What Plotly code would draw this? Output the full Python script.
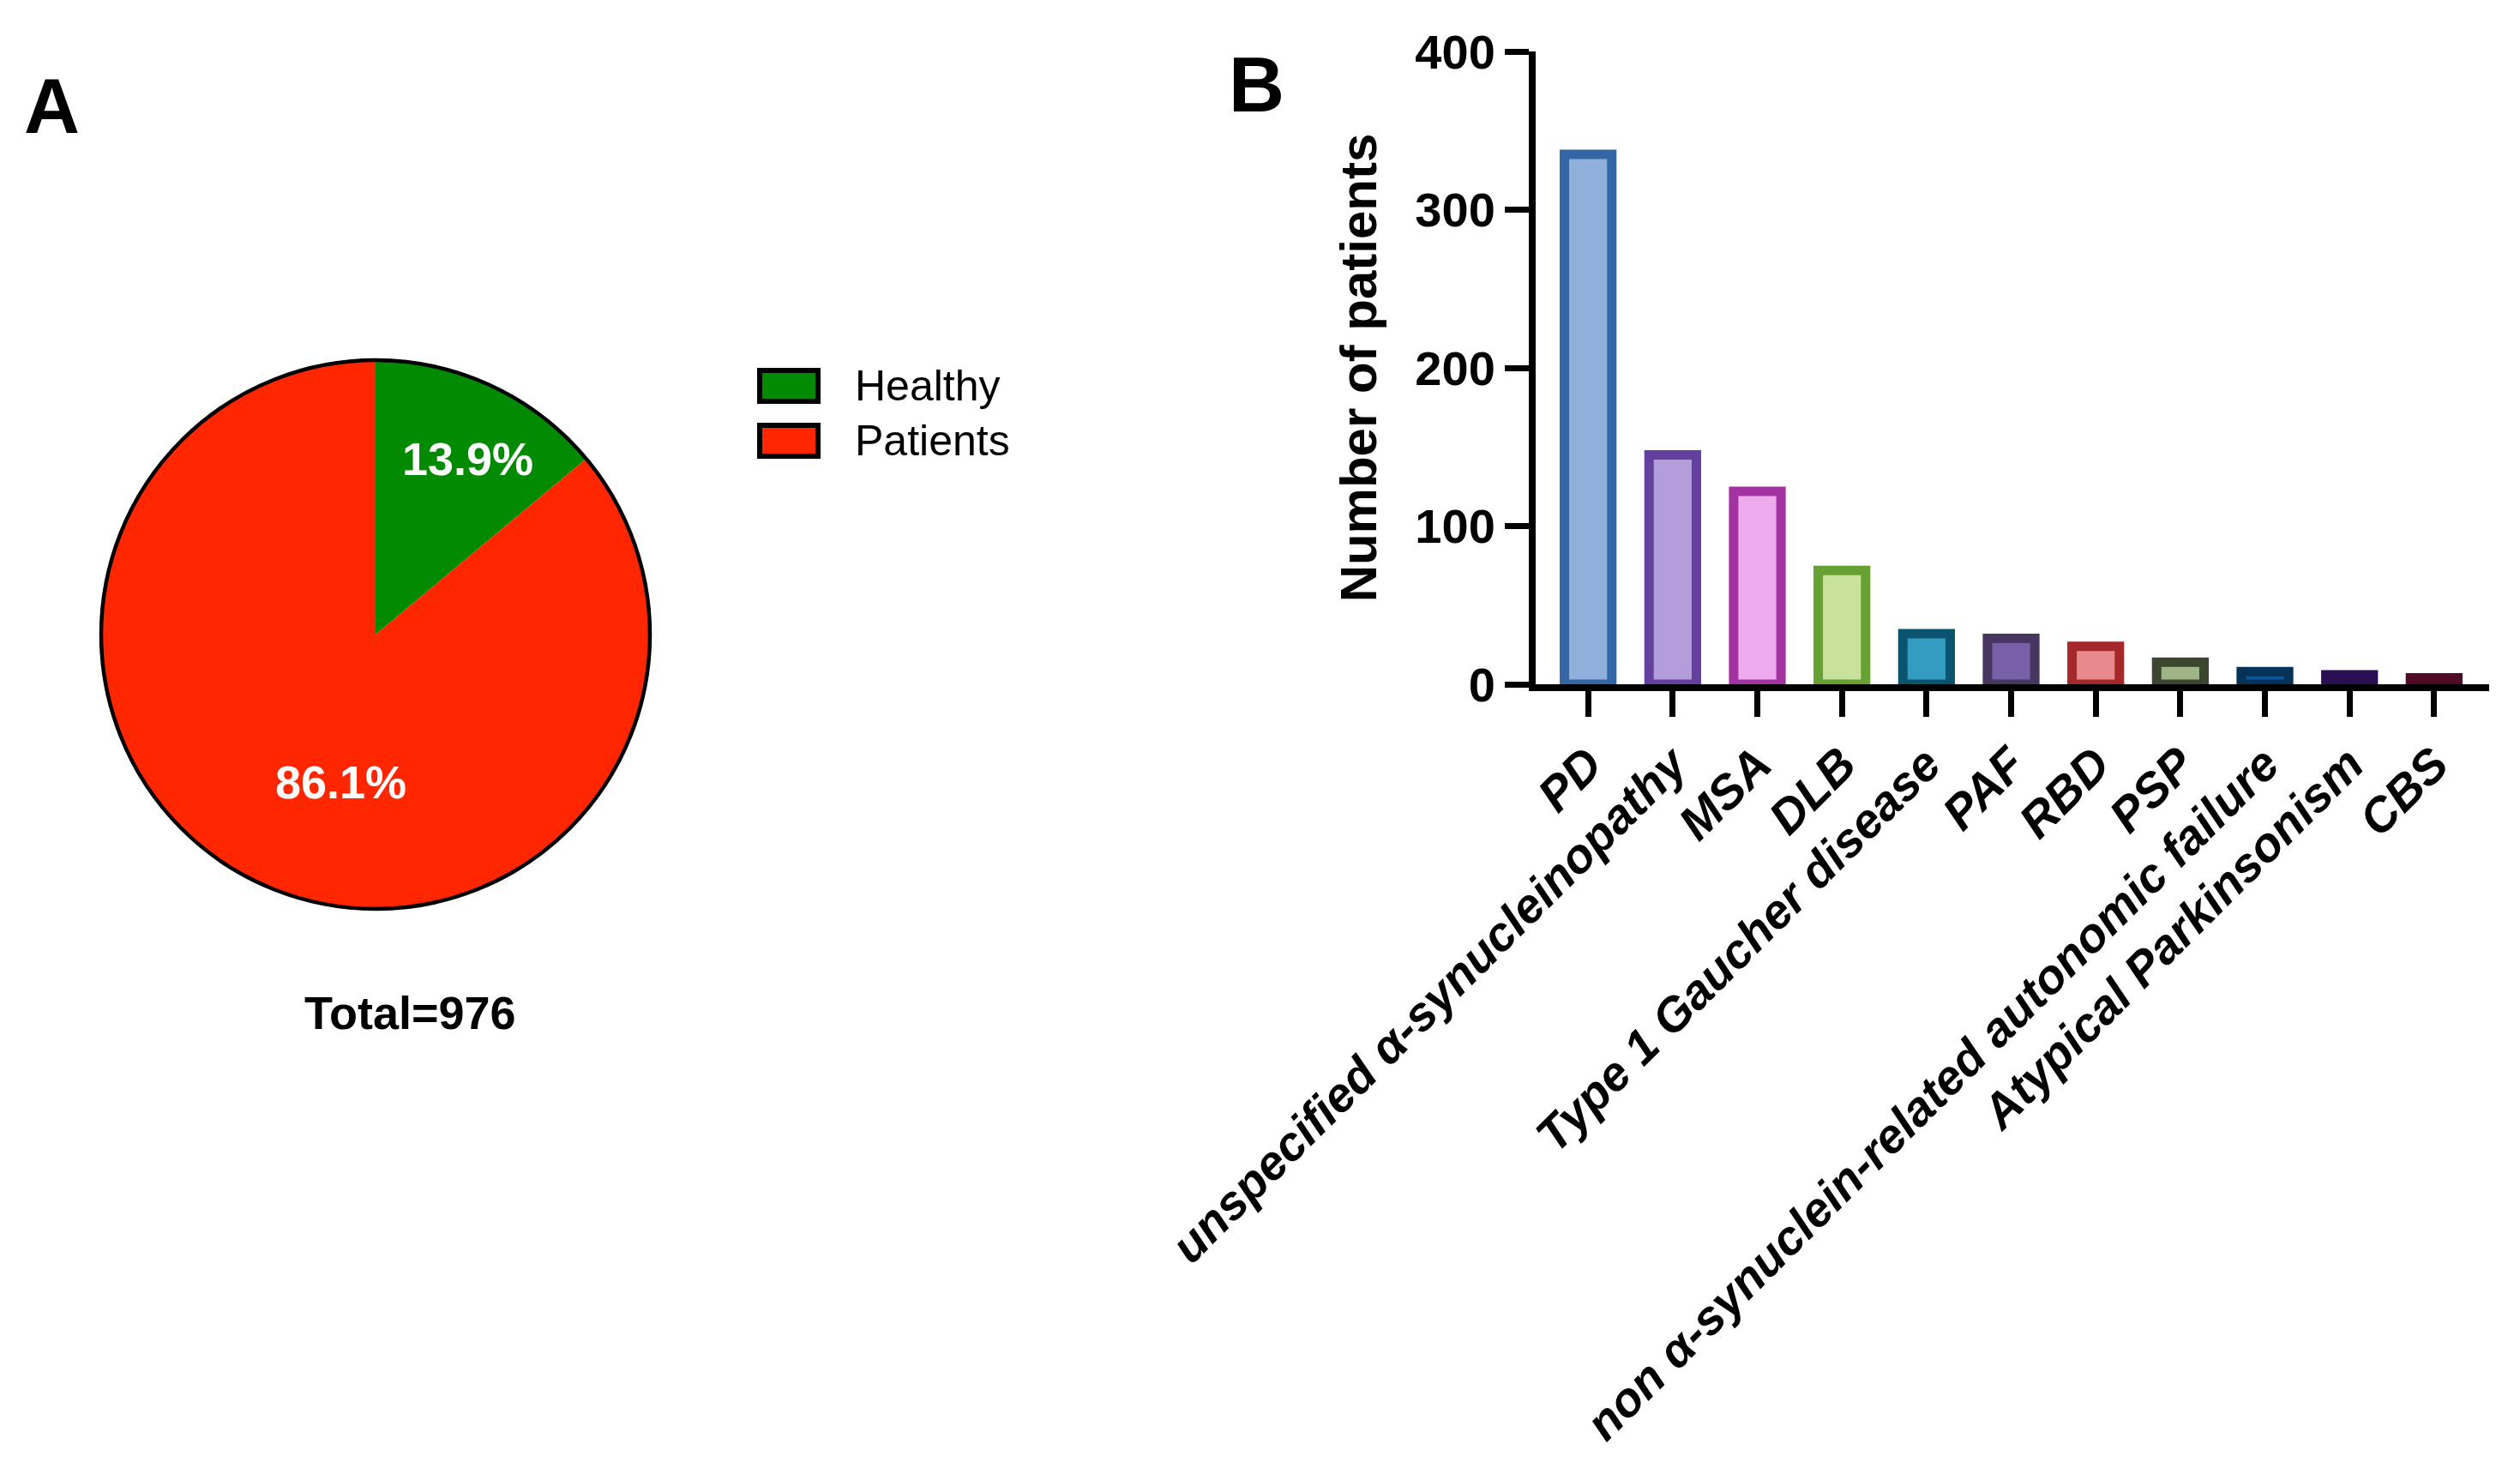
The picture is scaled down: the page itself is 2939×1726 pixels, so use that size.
import plotly.graph_objects as go

# ---------------- data ----------------
pie_labels = ["Healthy", "Patients"]
pie_values = [136, 840]

bar_categories = ["PD", "unspecified α-synucleinopathy", "MSA", "DLB",
                  "Type 1 Gaucher disease", "PAF", "RBD", "PSP",
                  "non α-synuclein-related autonomic failure",
                  "Atypical Parkinsonism", "CBS"]
bar_values = [335, 145, 122, 72, 32, 29, 24, 14, 8, 6, 4]

y_tick_vals = [0, 100, 200, 300, 400]

# ---------------- styles ----------------
pie_colors = ["#028A02", "#FF2600"]
bar_fill = ["#8FB0DB", "#B39DDB", "#EDABEE", "#C9E29B", "#339CC0", "#7760A8",
            "#E88A8D", "#9FB585", "#07579E", "#51209A", "#6A1030"]
bar_line = ["#3465A4", "#63409E", "#A333A0", "#67A033", "#0B5470", "#47365F",
            "#A5282A", "#3C4530", "#043357", "#2A0F55", "#4F0A25"]

W, H = 2939, 1726
OFF = 8                      # default page body margin
FW, FH = W - 2 * OFF, H - 2 * OFF
FONT = "Liberation Sans, Arial, sans-serif"


def px(x):
    return (x - OFF) / FW


def py(y):
    return 1 - (y - OFF) / FH


total = sum(pie_values)
pcts = [v / total * 100 for v in pie_values]

# pie geometry (pixels in the page)
cx, cy, r = 438, 740, 320

fig = go.Figure()

fig.add_trace(go.Pie(
    labels=pie_labels, values=pie_values, sort=False, direction="clockwise",
    rotation=0, marker=dict(colors=pie_colors, line=dict(width=0)),
    textinfo="none", hoverinfo="label+value+percent", showlegend=False,
    domain=dict(x=[px(cx - r), px(cx + r)], y=[py(cy + r), py(cy - r)]),
))

fig.add_trace(go.Bar(
    x=bar_categories, y=bar_values,
    marker=dict(color=bar_fill, line=dict(color=bar_line, width=11)),
    width=0.56, showlegend=False, xaxis="x", yaxis="y",
))

shapes = [
    dict(type="circle", xref="paper", yref="paper",
         x0=px(cx - r), x1=px(cx + r), y0=py(cy + r), y1=py(cy - r),
         line=dict(color="black", width=4.5), layer="above"),
]
annotations = []

# legend (custom, GraphPad-style swatches)
leg_rows = [450, 514]
for lab, col, yc in zip(pie_labels, pie_colors, leg_rows):
    shapes.append(dict(type="rect", xref="paper", yref="paper",
                       x0=px(886), x1=px(954), y0=py(yc + 18), y1=py(yc - 18),
                       fillcolor=col, line=dict(color="black", width=6)))
    annotations.append(dict(text=lab, xref="paper", yref="paper",
                            x=px(995), y=py(yc), xanchor="left", yanchor="middle",
                            showarrow=False,
                            font=dict(family=FONT, size=50, color="black")))

# percent labels on the pie
pct_pos = [(545, 535), (397, 912)]
for p, (x, y) in zip(pcts, pct_pos):
    annotations.append(dict(text=f"{p:.1f}%", xref="paper", yref="paper",
                            x=px(x), y=py(y), xanchor="center", yanchor="middle",
                            showarrow=False,
                            font=dict(family=FONT, size=54, color="white", weight="bold")))

annotations.append(dict(text=f"Total={total}", xref="paper", yref="paper",
                        x=px(478), y=py(1181), xanchor="center", yanchor="middle",
                        showarrow=False,
                        font=dict(family=FONT, size=54, color="black", weight="bold")))

annotations.append(dict(text="A", xref="paper", yref="paper",
                        x=px(26), y=py(124), xanchor="left", yanchor="middle",
                        showarrow=False,
                        font=dict(family=FONT, size=90, color="black", weight="bold")))
annotations.append(dict(text="B", xref="paper", yref="paper",
                        x=px(1431), y=py(99), xanchor="left", yanchor="middle",
                        showarrow=False,
                        font=dict(family=FONT, size=90, color="black", weight="bold")))

fig.update_layout(
    template="none",
    width=FW, height=FH,
    margin=dict(l=0, r=0, t=0, b=0, autoexpand=False),
    paper_bgcolor="white", plot_bgcolor="white",
    font=dict(family=FONT, color="black"),
    showlegend=False,
    xaxis=dict(
        domain=[px(1791), px(2903)],
        range=[-0.62, 10.65],
        automargin=False,
        showline=True, linecolor="black", linewidth=8,
        ticks="outside", ticklen=30, tickwidth=7, tickcolor="black",
        tickangle=-45,
        tickfont=dict(family=FONT, size=56, color="black", weight="bold", style="italic"),
        showgrid=False, zeroline=False, anchor="y", fixedrange=True,
    ),
    yaxis=dict(
        domain=[py(798), py(60)],
        range=[0, 400],
        automargin=False,
        tickvals=y_tick_vals,
        showline=True, linecolor="black", linewidth=8,
        ticks="outside", ticklen=28, tickwidth=7, tickcolor="black",
        tickfont=dict(family=FONT, size=56, color="black", weight="bold"),
        title=dict(text="Number of patients", standoff=28,
                   font=dict(family=FONT, size=60, color="black", weight="bold")),
        showgrid=False, zeroline=False, anchor="x", fixedrange=True,
    ),
    shapes=shapes,
    annotations=annotations,
    bargap=0.44,
)

fig.write_html("out.html")
